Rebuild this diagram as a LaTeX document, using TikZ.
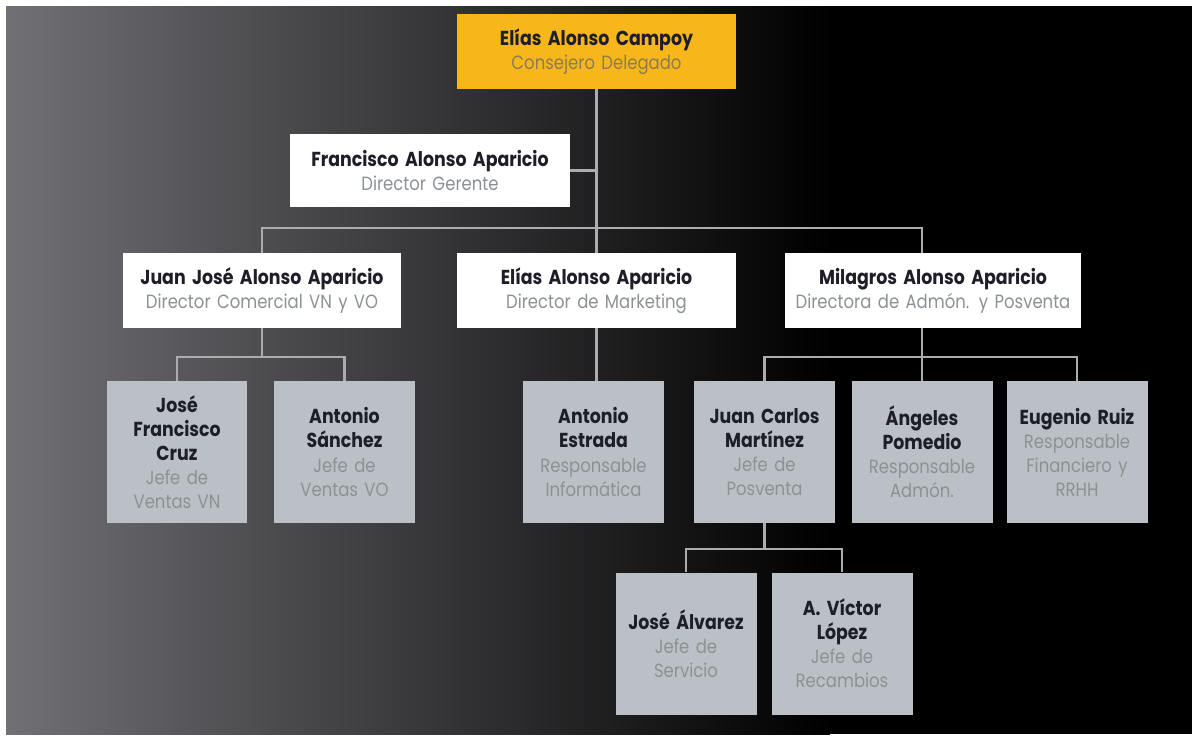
\documentclass[tikz,border=0pt]{standalone}
\usepackage{fontspec}
\setmainfont{Poppins}[FakeStretch=0.86]
\usetikzlibrary{calc}
\definecolor{gold}{RGB}{247,183,26}
\definecolor{goldtext}{RGB}{140,124,84}
\definecolor{boxgrey}{RGB}{186,192,197}
\definecolor{roletext}{RGB}{140,145,150}
\definecolor{nametext}{RGB}{30,30,40}
\definecolor{linkgrey}{RGB}{172,172,174}
\definecolor{bgleft}{RGB}{112,112,117}
\hyphenpenalty=10000
\newcommand{\person}[3][roletext]{{\bfseries\fontsize{11.5}{13.7}\selectfont #2}\\{\color{#1}#3}}
\begin{document}
\begin{tikzpicture}[x=0.02cm, y=-0.02cm,
  every node/.style={inner sep=0pt, align=center, text=nametext,
    font=\fontsize{10.9}{13.7}\selectfont},
  top/.style={fill=gold, minimum width=5.58cm, minimum height=1.5cm, text width=5.58cm},
  boss/.style={fill=white, minimum width=5.58cm, minimum height=1.5cm, text width=5.58cm},
  staff/.style={fill=boxgrey, minimum width=2.82cm, minimum height=2.84cm, text width=2.82cm},
  link/.style={draw=linkgrey, line width=1.3pt}]
% background
\fill[white] (0,0) rectangle (1192,735);
\shade[left color=bgleft, right color=black] (6,6) rectangle (830,734);
\fill[black] (829,6) rectangle (1192,734);
% management
\node[top] (ceo) at (596.5,51.5) {\person[goldtext]{Elías Alonso Campoy}{Consejero Delegado}};
\node[boss, minimum width=5.6cm, minimum height=1.46cm] (gerente) at (430,170.5)
  {\person{Francisco Alonso Aparicio}{Director Gerente}};
\node[boss] (juanjose) at (262,290.5) {\person{Juan José Alonso Aparicio}{Director Comercial VN y VO}};
\node[boss] (eliasap) at (596.5,290.5) {\person{Elías Alonso Aparicio}{Director de Marketing}};
\node[boss, minimum width=5.92cm, text width=5.92cm] (milagros) at (933,290.5)
  {\person{Milagros Alonso Aparicio}{Directora de Admón. y Posventa}};
% staff
\node[staff] (cruz) at (177,452) {\person{José\\Francisco\\Cruz}{Jefe de\\Ventas VN}};
\node[staff] (sanchez) at (344.5,452) {\person{Antonio\\Sánchez}{Jefe de\\Ventas VO}};
\node[staff] (estrada) at (593.5,452) {\person{Antonio\\Estrada}{Responsable\\Informática}};
\node[staff] (martinez) at (764.5,452) {\person{Juan Carlos\\Martínez}{Jefe de\\Posventa}};
\node[staff] (pomedio) at (922,452) {\person{Ángeles\\Pomedio}{Responsable\\Admón.}};
\node[staff] (ruiz) at (1077,452) {\person{Eugenio Ruiz}{Responsable\\Financiero y\\RRHH}};
\node[staff] (alvarez) at (686,643.5) {\person{José Álvarez}{Jefe de\\Servicio}};
\node[staff] (lopez) at (842,643.5) {\person{A. Víctor\\López}{Jefe de\\Recambios}};
% connectors
\coordinate (trunk) at (596.5,228);
\draw[link] (ceo) -- (eliasap);
\draw[link] (gerente.east) -- (gerente.east -| ceo.south);
\draw[link] (juanjose.north) |- (trunk) -| (milagros.north -| pomedio.north);
\draw[link] (juanjose.south) -- ++(0,29) coordinate (jjbar);
\draw[link] (cruz.north) |- (jjbar) -| (sanchez.north);
\draw[link] (eliasap.south) -- (eliasap.south |- estrada.north);
\draw[link] (milagros.south -| pomedio.north) -- (pomedio.north);
\draw[link] (martinez.north) |- ($(pomedio.north)+(0,-24)$) -| (ruiz.north);
\draw[link] (martinez.south) -- ++(0,26) coordinate (jcbar);
\draw[link] (alvarez.north) |- (jcbar) -| (lopez.north);
\end{tikzpicture}
\end{document}
